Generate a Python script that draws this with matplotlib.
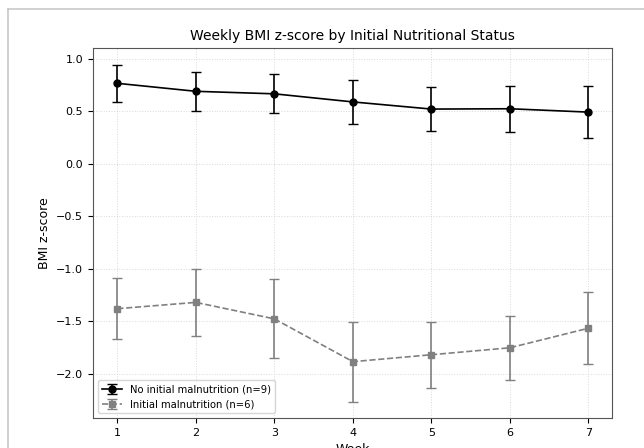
import matplotlib
matplotlib.use("Agg")
import matplotlib.pyplot as plt
from matplotlib.lines import Line2D

weeks = [1, 2, 3, 4, 5, 6, 7]

# no initial malnutrition (n=9)
no_mal_mean = [0.764, 0.688, 0.664, 0.587, 0.519, 0.522, 0.490]
no_mal_err = [0.175, 0.183, 0.185, 0.209, 0.211, 0.220, 0.246]

# initial malnutrition (n=6)
mal_mean = [-1.380, -1.320, -1.477, -1.884, -1.818, -1.752, -1.566]
mal_err = [0.288, 0.320, 0.376, 0.380, 0.312, 0.302, 0.345]

fig = plt.figure(figsize=(6.44, 4.48), dpi=100)
ax = fig.add_axes([93 / 644, 30 / 448, 519 / 644, 370 / 448])

ax.errorbar(weeks, no_mal_mean, yerr=no_mal_err, color='black', marker='o',
            markersize=5, linestyle='-', linewidth=1.2, capsize=3.8,
            elinewidth=1.2, label='No initial malnutrition (n=9)')
ax.errorbar(weeks, mal_mean, yerr=mal_err, color='gray', marker='s',
            markersize=5, linestyle='--', linewidth=1.2, capsize=3.8,
            elinewidth=1.2, label='Initial malnutrition (n=6)')

ax.set_xticks(weeks)
ax.set_xlim(0.69, 7.30)
ax.set_ylim(-2.42, 1.10)
ax.tick_params(labelsize=8)
ax.grid(True, linestyle=':', color='#d0d0d0', linewidth=0.7, alpha=0.8)
for s in ax.spines.values():
    s.set_color('#555555')

ax.set_xlabel('Week', fontsize=9)
ax.set_ylabel('BMI z-score', fontsize=9)
ax.set_title('Weekly BMI z-score by Initial Nutritional Status', fontsize=10)
ax.legend(loc='lower left', fontsize=7.2)

# thin frame lines seen at top and left of the picture
fig.add_artist(Line2D([8 / 644, 1], [1 - 9 / 448, 1 - 9 / 448],
                      transform=fig.transFigure, color='#c8c8cc', linewidth=1.2))
fig.add_artist(Line2D([8 / 644, 8 / 644], [0, 1 - 9 / 448],
                      transform=fig.transFigure, color='#c8c8cc', linewidth=1.2))

fig.savefig('out.png', dpi=100)
